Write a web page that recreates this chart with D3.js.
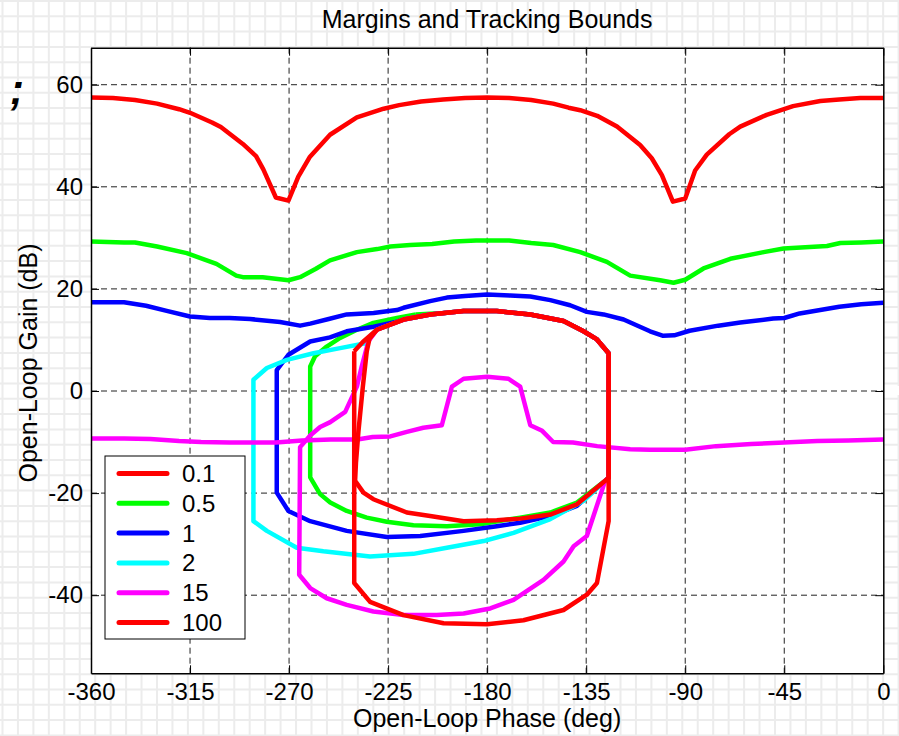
<!DOCTYPE html>
<html>
<head>
<meta charset="utf-8">
<script src="https://cdn.jsdelivr.net/npm/d3@7/dist/d3.min.js"></script>
<style>
  html, body { margin: 0; padding: 0; background: #ffffff; }
  svg { display: block; font-family: "Liberation Sans", Arial, Helvetica, sans-serif; }
</style>
</head>
<body>
<div id="chart"></div>
<script>
// Nichols-plane margin and tracking bounds, one curve per frequency (rad/s)
const xTicks = [-360, -315, -270, -225, -180, -135, -90, -45, 0];
const yTicks = [-40, -20, 0, 20, 40, 60];
const legendLabels = ["0.1", "0.5", "1", "2", "15", "100"];
const legendColors = ["#ff0000", "#00ff00", "#0000ff", "#00ffff", "#ff00ff", "#ff0000"];

// [phase (deg), gain (dB)]
const bound01 = [[-360,57.5],[-350,57.4],[-340,57.0],[-330,56.3],[-320,55.2],[-315,54.5],[-305,52.6],[-301,51.7],
  [-291,48.4],[-285,46.0],[-281.7,43.4],[-276,37.9],[-270.3,37.3],[-265.8,42.0],[-260.5,45.9],[-251.4,50.2],
  [-239.2,53.6],[-227,55.3],[-220,56.0],[-210,56.7],[-200,57.1],[-190,57.4],[-180,57.5],[-170,57.4],[-160,57.0],
  [-150,56.3],[-143,55.5],[-137.7,55.0],[-130,53.9],[-121,51.8],[-110.5,48.2],[-105.2,45.6],[-100.6,42.3],
  [-95.6,37.1],[-90,37.7],[-85.5,43.2],[-80.2,46.3],[-70,50.3],[-65,51.8],[-53,54.1],[-41,55.8],[-28.6,56.8],
  [-20,57.1],[-10.5,57.4],[0,57.4]];

const bound05 = [[-360,29.3],[-345,29.1],[-340,29.1],[-330,28.3],[-316.5,27.0],[-303,24.9],[-294,22.6],[-291,22.3],
  [-282,22.3],[-270.3,21.7],[-265,22.3],[-258,23.9],[-251.4,25.6],[-239.2,27.2],[-230,27.8],[-224,28.3],
  [-215,28.6],[-205,28.8],[-195,29.3],[-185,29.5],[-170,29.5],[-160,29.0],[-150,28.6],[-137.7,27.2],
  [-125.6,25.3],[-115,22.6],[-101.4,21.7],[-95.3,21.2],[-90,21.8],[-81.7,24.0],[-69.5,25.9],[-54.4,27.2],
  [-45.3,27.9],[-25.6,28.4],[-19.5,29.0],[-10,29.1],[0,29.3]];

const bound1 = [[-360,17.4],[-345,17.4],[-335,16.7],[-325.6,15.7],[-315,14.6],[-306,14.3],[-297,14.3],[-287.7,14.1],
  [-274.1,13.5],[-265,12.8],[-260.4,13.2],[-252,14.1],[-243.8,15.0],[-231.6,15.3],[-221,15.85],[-218,16.3],
  [-205.9,17.6],[-198.3,18.3],[-190,18.6],[-180,18.9],[-169.5,18.7],[-160.4,18.5],[-151.3,17.8],[-142.3,16.8],
  [-134.7,15.5],[-127.1,15.0],[-118,14.0],[-106,11.7],[-100,10.8],[-95,10.9],[-88,11.8],[-75,12.8],[-65,13.4],
  [-50,14.2],[-45,14.3],[-38,15.2],[-20,16.5],[-10,17.0],[0,17.3]];

const bound15 = [[-360,-9.3],[-345,-9.3],[-333,-9.4],[-320,-9.8],[-310,-10.0],[-297,-10.1],[-276,-10.1],[-264,-9.7],
  [-251,-9.5],[-239,-9.5],[-232,-9.0],[-224,-8.9],[-216.5,-8.0],[-209,-7.2],[-200.6,-6.7],[-196,0.85],
  [-190.7,2.4],[-180,2.8],[-170.3,2.4],[-165,0.85],[-160.4,-6.7],[-155,-7.8],[-150,-10.0],[-141,-10.1],
  [-130,-10.8],[-115,-11.4],[-106,-11.5],[-90,-11.5],[-76,-10.8],[-60,-10.4],[-30,-9.8],[-16,-9.7],[0,-9.5]];

// closed margin contours
const loop05 = [[-212.4,15.0],[-221,14.3],[-231.7,13.35],[-239.2,12.0],[-246.8,10.4],[-252.9,8.7],[-258.2,6.8],
  [-260.4,4.8],[-260.4,-16.9],[-255.9,-20.2],[-251.3,-21.85],[-243.8,-23.5],[-234.7,-24.8],[-225.6,-25.6],
  [-213.5,-26.3],[-198.3,-26.5],[-183.2,-26.1],[-165,-24.8],[-151.3,-23.8],[-139.2,-21.85],[-126.4,-17.6],
  [-124.8,-17],[-124.8,7.4],[-130.1,10.1],[-136.2,11.7],[-145.3,13.7],[-160.4,15.0],[-175.6,15.65],
  [-190.7,15.65],[-199.8,15.3],[-212.4,15.0]];

const loop1 = [[-218,14.0],[-221,13.6],[-231.6,12.6],[-243.8,11.7],[-251.4,10.5],[-260.4,9.7],[-270.3,7.1],
  [-275.6,4.1],[-275.6,-19.9],[-270.3,-23.5],[-260.4,-25.5],[-243.8,-27.4],[-225.6,-28.6],[-210.4,-28.4],
  [-190.7,-27.4],[-175.6,-26.5],[-165,-25.8],[-151.3,-24.5],[-139.2,-22.5],[-126.4,-17.6],[-124.8,-17],
  [-124.8,7.4],[-130.1,10.1],[-136.2,11.7],[-145.3,13.7],[-160.4,15.0],[-175.6,15.65],[-190.7,15.65],
  [-205.9,15.0],[-218,14.0]];

const loop2 = [[-233,10.8],[-234.7,9.4],[-246.8,8.4],[-258.9,7.4],[-271,6.1],[-280.1,4.5],[-286.2,2.2],
  [-286.2,-25.5],[-280.1,-27.4],[-266.5,-30.7],[-254.4,-31.4],[-233.2,-32.4],[-213.5,-31.9],[-198.3,-30.7],
  [-181.6,-29.4],[-168,-27.8],[-151.3,-25.1],[-136.2,-21.5],[-126.4,-17.6],[-124.8,-17],[-124.8,7.4],
  [-130.1,10.1],[-136.2,11.7],[-145.3,13.7],[-160.4,15.0],[-175.6,15.65],[-190.7,15.65],[-205.9,15.0],
  [-218,14.0],[-230.1,12.0],[-233,10.8]];

const loop15 = [[-234,9.7],[-237,4.8],[-239.2,0.85],[-244.5,-4.1],[-251.3,-6.1],[-255.9,-7.05],[-260.4,-8.7],
  [-265,-11],[-265.4,-36],[-260.4,-38.6],[-252.9,-40.6],[-243.8,-41.9],[-231.7,-43.2],[-218,-43.9],
  [-202.9,-43.9],[-190.7,-43.6],[-178.6,-42.6],[-168,-40.9],[-154.4,-37],[-145.3,-33.4],[-140.7,-30.4],
  [-134.7,-28.4],[-126.4,-17.6],[-124.8,-17],[-124.8,7.4],[-130.1,10.1],[-136.2,11.7],[-145.3,13.7],
  [-160.4,15.0],[-175.6,15.65],[-190.7,15.65],[-205.9,15.0],[-218,14.0],[-230.1,12.0],[-234,9.7]];

const loop100Inner = [[-234.7,7.8],[-236.5,0.8],[-238.5,-8],[-239.6,-14],[-240,-17.6],[-236.2,-19.9],
  [-231.7,-21.2],[-216.5,-23.8],[-205.9,-24.5],[-190.7,-25.5],[-175.6,-25.3],[-165,-25.0],[-151.3,-24.2],
  [-139.2,-22.2],[-126.4,-17.6],[-124.8,-17],[-124.8,7.4],[-130.1,10.1],[-136.2,11.7],[-145.3,13.7],
  [-160.4,15.0],[-175.6,15.65],[-190.7,15.65],[-205.9,15.0],[-218,14.0],[-230.1,12.0],[-233.5,10.2],[-234.7,7.8]];

const loop100Outer = [[-240.4,7.8],[-240.4,-37.6],[-233.2,-41.3],[-218,-43.9],[-199.8,-45.5],[-180,-45.7],
  [-163.5,-44.9],[-145.3,-42.9],[-134.7,-39.9],[-130.1,-37.6],[-124.8,-25.5],[-124.8,7.4],[-130.1,10.1],
  [-136.2,11.7],[-145.3,13.7],[-160.4,15.0],[-175.6,15.65],[-190.7,15.65],[-205.9,15.0],[-218,14.0],
  [-230.1,12.0],[-236.5,9.6],[-240.4,7.8]];

const W = 899, H = 736;
const plot = { left: 91, right: 883.3, top: 47.7, bottom: 673.3 };

const svg = d3.select("#chart").append("svg").attr("width", W).attr("height", H);

// figure background: light graph-paper grid
const bg = svg.append("g");
bg.append("rect").attr("width", W).attr("height", H).attr("fill", "#ffffff");
bg.selectAll("line.v").data(d3.range(0, 59)).join("line")
  .attr("x1", i => 2.5 + i * 15.45).attr("x2", i => 2.5 + i * 15.45)
  .attr("y1", 0).attr("y2", H)
  .attr("stroke", "#ececec").attr("stroke-width", 2);
bg.selectAll("line.h").data(d3.range(0, 49)).join("line")
  .attr("y1", i => 1 + i * 15.3).attr("y2", i => 1 + i * 15.3)
  .attr("x1", 0).attr("x2", W)
  .attr("stroke", "#ececec").attr("stroke-width", 2);

const x = d3.scaleLinear().domain([-360, 0]).range([plot.left, plot.right]);
const y = d3.scaleLinear().domain([-55.3, 67.25]).range([plot.bottom, plot.top]);

// plot area
svg.append("rect")
  .attr("x", plot.left).attr("y", plot.top)
  .attr("width", plot.right - plot.left).attr("height", plot.bottom - plot.top)
  .attr("fill", "#ffffff");
svg.append("rect").attr("x", 884).attr("y", 386).attr("width", 15).attr("height", 9).attr("fill", "#ffffff");

svg.append("defs").append("clipPath").attr("id", "plotClip")
  .append("rect")
  .attr("x", plot.left).attr("y", plot.top)
  .attr("width", plot.right - plot.left).attr("height", plot.bottom - plot.top);

// dashed grid
const grid = svg.append("g").attr("stroke", "#222").attr("stroke-width", 1).attr("stroke-dasharray", "6,4");
grid.selectAll("line.gx").data(xTicks.filter(t => t > -360 && t < 0)).join("line")
  .attr("x1", d => x(d)).attr("x2", d => x(d))
  .attr("y1", plot.top).attr("y2", plot.bottom);
grid.selectAll("line.gy").data(yTicks).join("line")
  .attr("y1", d => y(d)).attr("y2", d => y(d))
  .attr("x1", plot.left).attr("x2", plot.right);

// curves
const line = d3.line().x(d => x(d[0])).y(d => y(d[1]));
const curves = [
  { data: bound01, color: "#ff0000" },
  { data: bound05, color: "#00ff00" },
  { data: loop05, color: "#00ff00" },
  { data: bound1, color: "#0000ff" },
  { data: loop1, color: "#0000ff" },
  { data: loop2, color: "#00ffff" },
  { data: bound15, color: "#ff00ff" },
  { data: loop15, color: "#ff00ff" },
  { data: loop100Inner, color: "#ff0000" },
  { data: loop100Outer, color: "#ff0000" }
];
svg.append("g").attr("clip-path", "url(#plotClip)")
  .selectAll("path").data(curves).join("path")
  .attr("d", d => line(d.data))
  .attr("fill", "none")
  .attr("stroke", d => d.color)
  .attr("stroke-width", 4.5)
  .attr("stroke-linejoin", "round");

// axes with inward ticks on all four sides
const fontSize = 24;
const fmt = d => String(d);
const axB = svg.append("g").attr("transform", `translate(0,${plot.bottom})`)
  .call(d3.axisBottom(x).tickValues(xTicks).tickSizeInner(-8).tickSizeOuter(0).tickPadding(10).tickFormat(fmt));
const axL = svg.append("g").attr("transform", `translate(${plot.left},0)`)
  .call(d3.axisLeft(y).tickValues(yTicks).tickSizeInner(-8).tickSizeOuter(0).tickPadding(8).tickFormat(fmt));
const axT = svg.append("g").attr("transform", `translate(0,${plot.top})`)
  .call(d3.axisTop(x).tickValues(xTicks).tickSizeInner(-8).tickSizeOuter(0).tickFormat(""));
const axR = svg.append("g").attr("transform", `translate(${plot.right},0)`)
  .call(d3.axisRight(y).tickValues(yTicks).tickSizeInner(-8).tickSizeOuter(0).tickFormat(""));
[axB, axL, axT, axR].forEach(a => {
  a.select(".domain").attr("stroke", "#000").attr("stroke-width", 1.5);
  a.selectAll(".tick line").attr("stroke", "#000").attr("stroke-width", 1);
  a.selectAll(".tick text").attr("font-size", fontSize).attr("fill", "#000")
    .attr("font-family", "'Liberation Sans', Arial, sans-serif");
});

// titles
svg.append("text").attr("x", (plot.left + plot.right) / 2).attr("y", 28)
  .attr("text-anchor", "middle").attr("font-size", 25).text("Margins and Tracking Bounds");
svg.append("text").attr("x", (plot.left + plot.right) / 2).attr("y", 727)
  .attr("text-anchor", "middle").attr("font-size", 25).text("Open-Loop Phase (deg)");
svg.append("text").attr("transform", "translate(37,363) rotate(-90)")
  .attr("text-anchor", "middle").attr("font-size", 25).text("Open-Loop Gain (dB)");
svg.append("text").attr("x", 10).attr("y", 104)
  .attr("font-size", 42).attr("font-weight", "bold").attr("font-style", "italic").text(";");

// legend
const lg = svg.append("g");
lg.append("rect").attr("x", 105).attr("y", 456).attr("width", 140).attr("height", 183)
  .attr("fill", "#ffffff").attr("stroke", "#000").attr("stroke-width", 1);
const items = lg.selectAll("g.item").data(legendLabels).join("g")
  .attr("transform", (d, i) => `translate(0,${473.5 + i * 29.8})`);
items.append("line").attr("x1", 119).attr("x2", 167).attr("y1", 0).attr("y2", 0)
  .attr("stroke", (d, i) => legendColors[i]).attr("stroke-width", 5).attr("stroke-linecap", "round");
items.append("text").attr("x", 182).attr("y", 8.5).attr("font-size", 24).text(d => d);
</script>
</body>
</html>
